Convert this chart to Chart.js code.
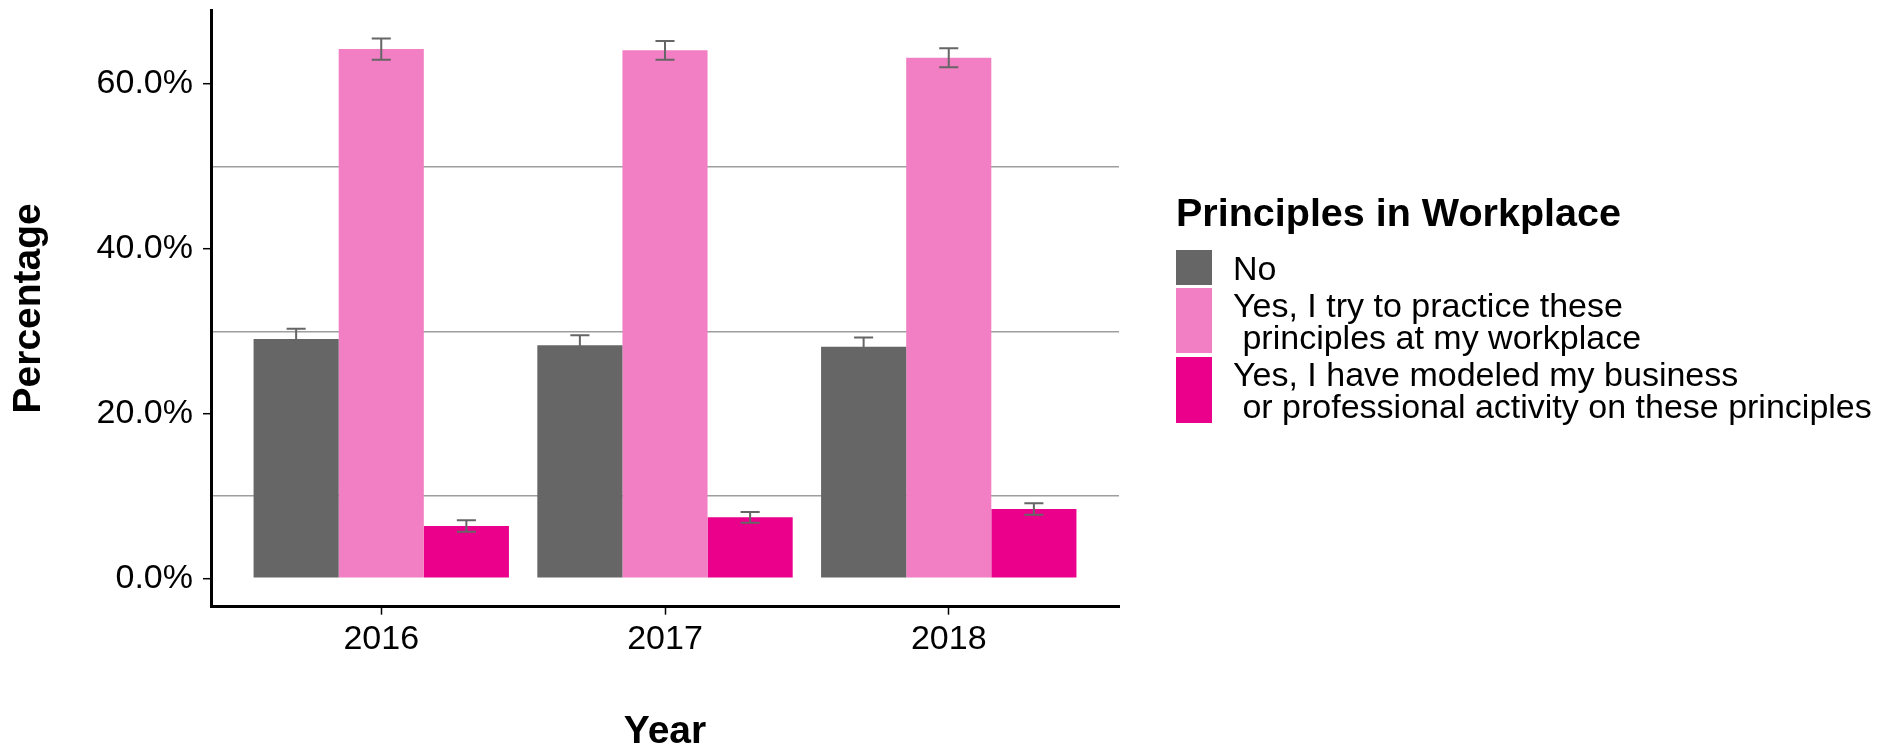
<!DOCTYPE html>
<html>
<head>
<meta charset="utf-8">
<script src="https://cdn.jsdelivr.net/npm/chart.js@4.4.1/dist/chart.umd.min.js"></script>
<style>
  html, body { margin: 0; padding: 0; background: #ffffff; }
  #wrap { position: relative; width: 1895px; height: 746px; font-family: 'Liberation Sans', Arial, sans-serif; }
  #c { position: absolute; left: 0; top: 0; }
  #legend { position: absolute; left: 1176px; top: 190px; color: #000; }
  #legend .title { font-weight: bold; font-size: 39.5px; line-height: 45px; height: 45px; margin-bottom: 15px; white-space: pre; }
  #legend .row { display: flex; align-items: center; }
  #legend .key { width: 36px; flex: none; }
  #legend .lab { font-size: 34px; line-height: 32px; margin-left: 21px; white-space: pre; }
</style>
</head>
<body>
<div id="wrap">
  <canvas id="c" width="1895" height="746"></canvas>
  <div id="legend"></div>
</div>
<script>
// ---- data ----
const categories = ['2016', '2017', '2018'];
const seriesNames = [
  'No',
  'Yes, I try to practice these\n principles at my workplace',
  'Yes, I have modeled my business\n or professional activity on these principles'
];
const noValues = [29.05, 28.3, 28.1];
const noErrors = [1.25, 1.2, 1.15];
const practiceValues = [64.25, 64.1, 63.2];
const practiceErrors = [1.3, 1.15, 1.15];
const modeledValues = [6.35, 7.4, 8.4];
const modeledErrors = [0.7, 0.65, 0.7];
const yTickValues = [0, 20, 40, 60];
const yTickLabels = ['0.0%', '20.0%', '40.0%', '60.0%'];
const yGridValues = [10, 30, 50];
const legendTitle = 'Principles in Workplace';
const xTitle = 'Year';
const yTitle = 'Percentage';

// ---- styles ----
const seriesColors = ['#666666', '#F27FC3', '#EA008B'];
const FONT = "'Liberation Sans', Arial, sans-serif";
Chart.defaults.font.family = FONT;
Chart.defaults.color = '#000000';

const valueSets = [noValues, practiceValues, modeledValues];
const errorSets = [noErrors, practiceErrors, modeledErrors];

const datasets = seriesNames.map((name, s) => ({
  label: name,
  data: valueSets[s].map((v, i) => ({ x: i + 1, y: v })),
  errors: errorSets[s],
  backgroundColor: seriesColors[s],
  borderWidth: 0,
  categoryPercentage: 0.9,
  barPercentage: 1.0
}));

const errorBarPlugin = {
  id: 'errorBars',
  afterDatasetsDraw(chart) {
    const { ctx } = chart;
    const yScale = chart.scales.y;
    ctx.save();
    ctx.strokeStyle = '#666666';
    ctx.lineWidth = 2;
    chart.data.datasets.forEach((ds, di) => {
      const meta = chart.getDatasetMeta(di);
      meta.data.forEach((bar, j) => {
        const v = ds.data[j].y;
        const e = ds.errors[j];
        const yt = yScale.getPixelForValue(v + e);
        const yb = yScale.getPixelForValue(v - e);
        const half = bar.width * 0.112;
        const x = bar.x;
        ctx.beginPath();
        ctx.moveTo(x, yt); ctx.lineTo(x, yb);
        ctx.moveTo(x - half, yt); ctx.lineTo(x + half, yt);
        ctx.moveTo(x - half, yb); ctx.lineTo(x + half, yb);
        ctx.stroke();
      });
    });
    ctx.restore();
  }
};

const allYTicks = yTickValues.concat(yGridValues).sort((a, b) => a - b);

const chart = new Chart(document.getElementById('c'), {
  type: 'bar',
  data: { datasets },
  plugins: [errorBarPlugin],
  options: {
    responsive: false,
    animation: false,
    devicePixelRatio: 1,
    layout: { padding: { top: 10, right: 776, left: 0, bottom: 0 } },
    plugins: { legend: { display: false }, tooltip: { enabled: false } },
    scales: {
      x: {
        type: 'linear',
        min: 0.4,
        max: 3.6,
        offset: false,
        afterBuildTicks: (scale) => { scale.ticks = categories.map((c, i) => ({ value: i + 1 })); },
        afterFit: (scale) => { scale.height = 139.3; scale.paddingLeft = 0; scale.paddingRight = 0; },
        ticks: {
          autoSkip: false,
          maxRotation: 0,
          padding: 5,
          font: { size: 34 },
          color: '#000000',
          callback: (v) => categories[Math.round(v) - 1]
        },
        grid: { offset: false, drawOnChartArea: false, drawTicks: true, tickLength: 8, tickColor: '#000000', tickWidth: 1.5 },
        border: { display: true, color: '#000000', width: 3 },
        title: { display: true, text: xTitle, font: { size: 39, weight: 'bold', lineHeight: 0.69 }, padding: { top: 0, bottom: 0 }, color: '#000000' }
      },
      y: {
        type: 'linear',
        min: -3.45,
        max: 69.0,
        afterBuildTicks: (scale) => { scale.ticks = allYTicks.map(v => ({ value: v })); },
        afterFit: (scale) => { scale.width = 211; scale.paddingTop = 0; scale.paddingBottom = 0; },
        ticks: {
          autoSkip: false,
          padding: 10,
          font: { size: 34 },
          color: '#000000',
          callback: (v) => { const k = yTickValues.indexOf(v); return k >= 0 ? yTickLabels[k] : ''; }
        },
        grid: {
          drawOnChartArea: true,
          drawTicks: true,
          tickLength: 8,
          lineWidth: 1.4,
          tickWidth: 1.5,
          color: (ctx) => (ctx.tick && yGridValues.includes(ctx.tick.value)) ? '#9E9E9E' : 'rgba(0,0,0,0)',
          tickColor: (ctx) => (ctx.tick && yTickValues.includes(ctx.tick.value)) ? '#000000' : 'rgba(0,0,0,0)'
        },
        border: { display: true, color: '#000000', width: 3 },
        title: { display: true, text: yTitle, font: { size: 39, weight: 'bold' }, padding: { top: 6, bottom: 0 }, color: '#000000' }
      }
    }
  }
});

// ---- HTML legend built from the chart's datasets ----
(function buildLegend() {
  const heights = [35, 65, 66];
  const gaps = [0, 3, 4];
  const el = document.getElementById('legend');
  const t = document.createElement('div');
  t.className = 'title';
  t.textContent = legendTitle;
  el.appendChild(t);
  chart.data.datasets.forEach((ds, i) => {
    const row = document.createElement('div');
    row.className = 'row';
    row.style.height = heights[i] + 'px';
    row.style.marginTop = gaps[i] + 'px';
    const key = document.createElement('div');
    key.className = 'key';
    key.style.height = heights[i] + 'px';
    key.style.background = ds.backgroundColor;
    const lab = document.createElement('div');
    lab.className = 'lab';
    lab.textContent = ds.label;
    row.appendChild(key);
    row.appendChild(lab);
    el.appendChild(row);
  });
})();
</script>
</body>
</html>
